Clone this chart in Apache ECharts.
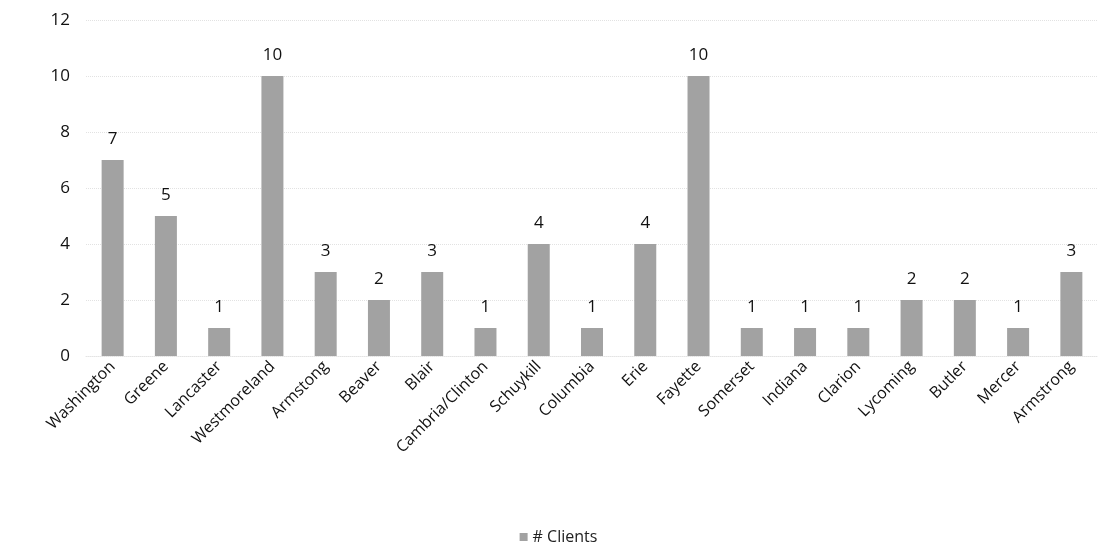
<!DOCTYPE html>
<html><head><meta charset="utf-8">
<script src="https://cdn.jsdelivr.net/npm/echarts@6/dist/echarts.min.js"></script>
<style>html,body{margin:0;padding:0;background:#fff}#c{width:1117px;height:552px}</style>
</head><body><div id="c"></div>
<script>
const categories = ["Washington","Greene","Lancaster","Westmoreland","Armstong","Beaver","Blair","Cambria/Clinton","Schuykill","Columbia","Erie","Fayette","Somerset","Indiana","Clarion","Lycoming","Butler","Mercer","Armstrong"];
const clients = [7,5,1,10,3,2,3,1,4,1,4,10,1,1,1,2,2,1,3];
const seriesName = "# Clients";
const chart = echarts.init(document.getElementById('c'));
const font = "'Open Sans', Lato, sans-serif";
chart.setOption({
  animation:false,
  textStyle:{fontFamily:font},
  grid:{left:86,right:19,top:20,bottom:196,containLabel:false},
  xAxis:{type:'category',data:categories,
    axisLine:{show:true,lineStyle:{color:'#e4e4e4',type:'dotted'}},axisTick:{show:false},
    axisLabel:{rotate:45,interval:0,fontSize:16,color:'#111',fontFamily:font,margin:8}},
  yAxis:{type:'value',min:0,max:12,interval:2,
    axisLine:{show:false},axisTick:{show:false},
    axisLabel:{fontSize:17,color:'#111',fontFamily:font,margin:16},
    splitLine:{lineStyle:{color:'#e2e2e2',type:'dotted'}}},
  legend:{bottom:2,left:'center',itemWidth:8,itemHeight:8,icon:'rect',itemGap:6,
    textStyle:{fontSize:16,color:'#222',fontFamily:font},data:[seriesName]},
  series:[{name:seriesName,type:'bar',data:clients,barWidth:22,
    itemStyle:{color:'#a2a2a2'},
    label:{show:true,position:'top',distance:12,fontSize:17,color:'#111',fontFamily:font}}]
});
</script></body></html>
